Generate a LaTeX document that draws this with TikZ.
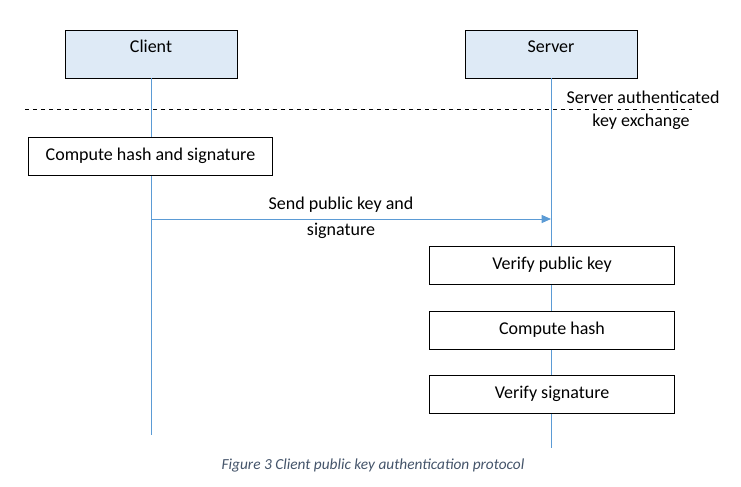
\documentclass[tikz,border=0pt]{standalone}
\usepackage{fontspec}
\setmainfont{Carlito}
\usetikzlibrary{arrows.meta}
\definecolor{lifeblue}{HTML}{5B9BD5}
\definecolor{headfill}{HTML}{DEEAF6}
\definecolor{captiongray}{HTML}{44546A}
\tikzstyle{head} = [rectangle, minimum width=129pt, minimum height=36pt, text height=9pt, text depth=11pt, text centered, draw=black, fill=headfill, font=\fontsize{13.5}{16}\selectfont]
\tikzstyle{action} = [rectangle, minimum width=184pt, minimum height=28.5pt, text centered, draw=black, fill=white, font=\fontsize{13.5}{16}\selectfont]
\tikzstyle{lifeline} = [lifeblue, line width=0.75pt]
\tikzstyle{arrow} = [lifeblue, line width=0.75pt, -{Triangle[length=7pt,width=6pt]}]
\tikzstyle{label} = [font=\fontsize{13.5}{16}\selectfont, align=center, inner sep=0]

\begin{document}
\begin{tikzpicture}[x=0.75pt,y=-0.75pt]
\useasboundingbox (0,0) rectangle (741,486);

% heads
\node[head] (client) at (151,54) {Client};
\node[head] (server) at (551,54) {Server};

% lifelines
\coordinate (clientend) at (151,435);
\coordinate (serverend) at (551,448);
\draw[lifeline] (client.south) -- (clientend);
\draw[lifeline] (server.south) -- (serverend);

% key exchange separator
\coordinate (sepleft) at (25,109);
\coordinate (sepright) at (692,109);
\draw[dashed, line width=0.75pt] (sepleft) -- (sepright);
\node[label] (kex1) at (643,97) {Server authenticated};
\node[label] (kex2) at (641,122) {key exchange};

% client side
\node[action, minimum width=183pt] (hashsig) at (150.5,156) {Compute hash and signature};

% message
\coordinate (sendfrom) at (151,219);
\coordinate (sendto) at (551,219);
\draw[arrow] (sendfrom) -- (sendto);
\node[label] (send1) at (341,205) {Send public key and};
\node[label] (send2) at (341,231) {signature};

% server side
\node[action] (verkey) at (552,265) {Verify public key};
\node[action] (hash) at (552,330) {Compute hash};
\node[action] (versig) at (552,394) {Verify signature};

% caption
\node[font=\fontsize{11.5}{13}\selectfont\itshape, text=captiongray] (caption) at (373,465) {Figure 3 Client public key authentication protocol};
\end{tikzpicture}
\end{document}
